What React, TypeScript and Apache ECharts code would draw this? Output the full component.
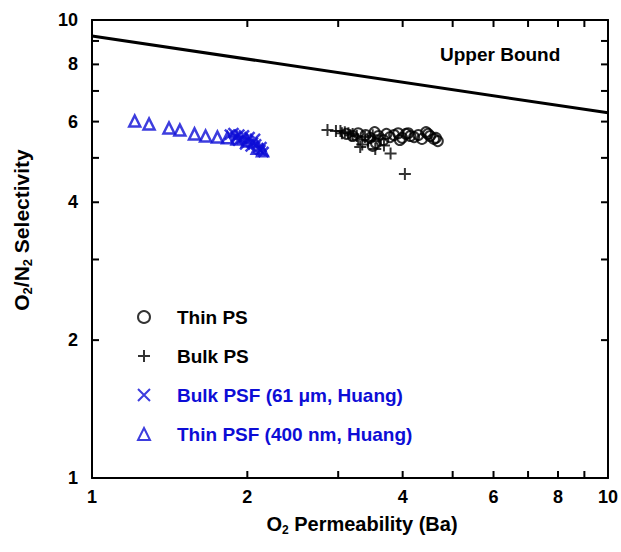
import React, { useEffect, useRef } from "react";
import * as echarts from "echarts";

const xTickValues = [2, 3, 4, 5, 6, 7, 8, 9];
const xLabelValues = [1, 2, 4, 6, 8, 10];
const yTickValues = [2, 3, 4, 5, 6, 7, 8, 9];
const yLabelValues = [1, 2, 4, 6, 8, 10];

const upperBound: [number, number][] = [
  [1, 9.23],
  [10, 6.27],
];

const thinPS: [number, number][] = [
  [3.11, 5.64], [3.2, 5.58], [3.28, 5.66], [3.39, 5.61], [3.46, 5.53], [3.53, 5.69],
  [3.59, 5.58], [3.67, 5.47], [3.72, 5.64], [3.78, 5.55], [3.85, 5.61], [3.92, 5.66],
  [3.99, 5.53], [4.06, 5.64], [4.14, 5.58], [4.21, 5.55], [4.29, 5.61], [4.36, 5.5],
  [4.44, 5.69], [4.52, 5.58], [4.6, 5.5], [4.68, 5.44], [3.55, 5.39], [3.5, 5.31],
  [4.1, 5.66], [4.48, 5.64], [4.64, 5.53], [3.95, 5.47],
];

const bulkPS: [number, number][] = [
  [2.86, 5.75], [2.97, 5.72], [3.03, 5.72], [3.09, 5.69], [3.14, 5.66], [3.2, 5.64],
  [3.26, 5.58], [3.28, 5.48], [3.34, 5.35], [3.31, 5.28], [3.43, 5.45], [3.54, 5.23],
  [3.68, 5.32], [3.79, 5.11], [4.04, 4.61], [3.5, 5.6], [3.62, 5.5], [3.05, 5.66],
  [3.17, 5.6], [3.38, 5.55],
];

const bulkPSF: [number, number][] = [
  [1.85, 5.62], [1.88, 5.66], [1.9, 5.55], [1.93, 5.62], [1.95, 5.5], [1.97, 5.6],
  [2.0, 5.45], [2.02, 5.55], [2.05, 5.4], [2.03, 5.3], [2.08, 5.35], [2.1, 5.25],
  [2.12, 5.2], [2.15, 5.15], [1.98, 5.35], [2.07, 5.5], [1.92, 5.45], [2.13, 5.28],
];

const thinPSF: [number, number][] = [
  [1.21, 6.02], [1.29, 5.93], [1.41, 5.81], [1.48, 5.75], [1.58, 5.64], [1.66, 5.58],
  [1.75, 5.55], [1.83, 5.53], [1.91, 5.5], [2.0, 5.44], [2.09, 5.25], [2.14, 5.18],
];

const BLUE = "#0d0dd6";
const FONT = "'Liberation Sans', Arial, sans-serif";
const TICK = 7;

export default function App() {
  const ref = useRef<HTMLDivElement>(null);
  useEffect(() => {
    if (!ref.current) return;
    const chart = echarts.init(ref.current, undefined, { renderer: "svg" });
    const axisLine = { show: true, lineStyle: { color: "#000", width: 2 } };
    const fmt = (v: number) => String(Math.round(v));
    const richFor = (size: number, sub: number, pad: number) => ({
      b: { fontSize: size, fontWeight: "bold", fontFamily: FONT, color: "#000" },
      s: { fontSize: sub, fontWeight: "bold", fontFamily: FONT, color: "#000", padding: [pad, 0, 0, 0] },
    });
    const upperText = {
      type: "text",
      left: 440,
      top: 45,
      style: { text: "Upper Bound", font: `bold 19px ${FONT}`, fill: "#000" },
    };
    const option: any = {
      animation: false,
      backgroundColor: "#fff",
      textStyle: { fontFamily: FONT },
      grid: { left: 92, right: 11, top: 20, bottom: 74, containLabel: false },
      xAxis: [
        {
          type: "log",
          logBase: 10,
          min: 1,
          max: 10,
          position: "bottom",
          axisLine,
          splitLine: { show: false },
          axisTick: { show: false },
          axisLabel: {
            show: true,
            customValues: xLabelValues,
            formatter: fmt,
            fontSize: 18,
            fontWeight: "bold",
            fontFamily: FONT,
            color: "#000",
            margin: 10,
          },
          name: "{b|O}{s|2}{b| Permeability (Ba)}",
          nameLocation: "middle",
          nameGap: 33,
          nameTextStyle: { rich: richFor(20, 12, 13), padding: [0, 0, 0, 24] },
        },
        {
          type: "log",
          logBase: 10,
          min: 1,
          max: 10,
          position: "top",
          axisLine,
          splitLine: { show: false },
          axisTick: { show: false },
          axisLabel: { show: false },
        },
      ],
      yAxis: [
        {
          type: "log",
          logBase: 10,
          min: 1,
          max: 10,
          position: "left",
          axisLine,
          splitLine: { show: false },
          axisTick: { show: false },
          axisLabel: {
            show: true,
            customValues: yLabelValues,
            formatter: fmt,
            fontSize: 18,
            fontWeight: "bold",
            fontFamily: FONT,
            color: "#000",
            margin: 14,
          },
          name: "{b|O}{s|2}{b|/N}{s|2}{b| Selectivity}",
          nameLocation: "middle",
          nameRotate: 90,
          nameGap: 58,
          nameTextStyle: { rich: richFor(21, 13, 13), padding: [0, 0, 0, 38] },
        },
        {
          type: "log",
          logBase: 10,
          min: 1,
          max: 10,
          position: "right",
          axisLine,
          splitLine: { show: false },
          axisTick: { show: false },
          axisLabel: { show: false },
        },
      ],
      legend: {
        orient: "vertical",
        left: 137,
        top: 306,
        padding: 0,
        itemWidth: 12,
        itemHeight: 12,
        itemGap: 17,
        selectedMode: false,
        textStyle: {
          fontSize: 19,
          fontWeight: "bold",
          fontFamily: FONT,
          color: "#000",
          lineHeight: 22,
          padding: [0, 0, 0, 22],
        },
        data: [
          { name: "Thin PS", textStyle: { color: "#000" } },
          { name: "Bulk PS", textStyle: { color: "#000" } },
          { name: "Bulk PSF (61 μm, Huang)", textStyle: { color: BLUE } },
          { name: "Thin PSF (400 nm, Huang)", textStyle: { color: BLUE } },
        ],
      },
      graphic: [upperText],
      series: [
        {
          name: "Upper Bound",
          type: "line",
          data: upperBound,
          showSymbol: false,
          symbol: "none",
          lineStyle: { color: "#000", width: 3 },
          z: 1,
        },
        {
          name: "Thin PSF (400 nm, Huang)",
          type: "scatter",
          data: thinPSF,
          symbol: "triangle",
          symbolSize: 11,
          itemStyle: { color: "rgba(0,0,0,0)", borderColor: BLUE, borderWidth: 2.5 },
        },
        {
          name: "Bulk PSF (61 μm, Huang)",
          type: "scatter",
          data: bulkPSF,
          symbol: "path://M0,0L10,10M10,0L0,10",
          symbolSize: 10,
          itemStyle: { color: "rgba(0,0,0,0)", borderColor: BLUE, borderWidth: 2.5 },
        },
        {
          name: "Thin PS",
          type: "scatter",
          data: thinPS,
          symbol: "circle",
          symbolSize: 10,
          itemStyle: { color: "rgba(0,0,0,0)", borderColor: "#000", borderWidth: 2 },
        },
        {
          name: "Bulk PS",
          type: "scatter",
          data: bulkPS,
          symbol: "path://M0,5L10,5M5,0L5,10",
          symbolSize: 12,
          itemStyle: { color: "rgba(0,0,0,0)", borderColor: "#000", borderWidth: 2 },
        },
      ],
    };
    chart.setOption(option);

    // Minor/major tick marks on all four sides, positioned through the chart's log scales
    const finder = { xAxisIndex: 0, yAxisIndex: 0 };
    const ticks: any[] = [];
    const tickStyle = { stroke: "#000", lineWidth: 2 };
    xTickValues.forEach((v) => {
      const b = chart.convertToPixel(finder, [v, 1]) as number[];
      const t = chart.convertToPixel(finder, [v, 10]) as number[];
      ticks.push({ type: "line", silent: true, z: 100, shape: { x1: b[0], y1: b[1], x2: b[0], y2: b[1] - TICK }, style: tickStyle });
      ticks.push({ type: "line", silent: true, z: 100, shape: { x1: t[0], y1: t[1], x2: t[0], y2: t[1] + TICK }, style: tickStyle });
    });
    yTickValues.forEach((v) => {
      const l = chart.convertToPixel(finder, [1, v]) as number[];
      const r = chart.convertToPixel(finder, [10, v]) as number[];
      ticks.push({ type: "line", silent: true, z: 100, shape: { x1: l[0], y1: l[1], x2: l[0] + TICK, y2: l[1] }, style: tickStyle });
      ticks.push({ type: "line", silent: true, z: 100, shape: { x1: r[0], y1: r[1], x2: r[0] - TICK, y2: r[1] }, style: tickStyle });
    });
    chart.setOption({ graphic: [upperText, ...ticks] });

    return () => chart.dispose();
  }, []);
  return (
    <div
      ref={ref}
      style={{ position: "fixed", left: 0, top: 0, width: 621, height: 552, background: "#fff" }}
    />
  );
}
